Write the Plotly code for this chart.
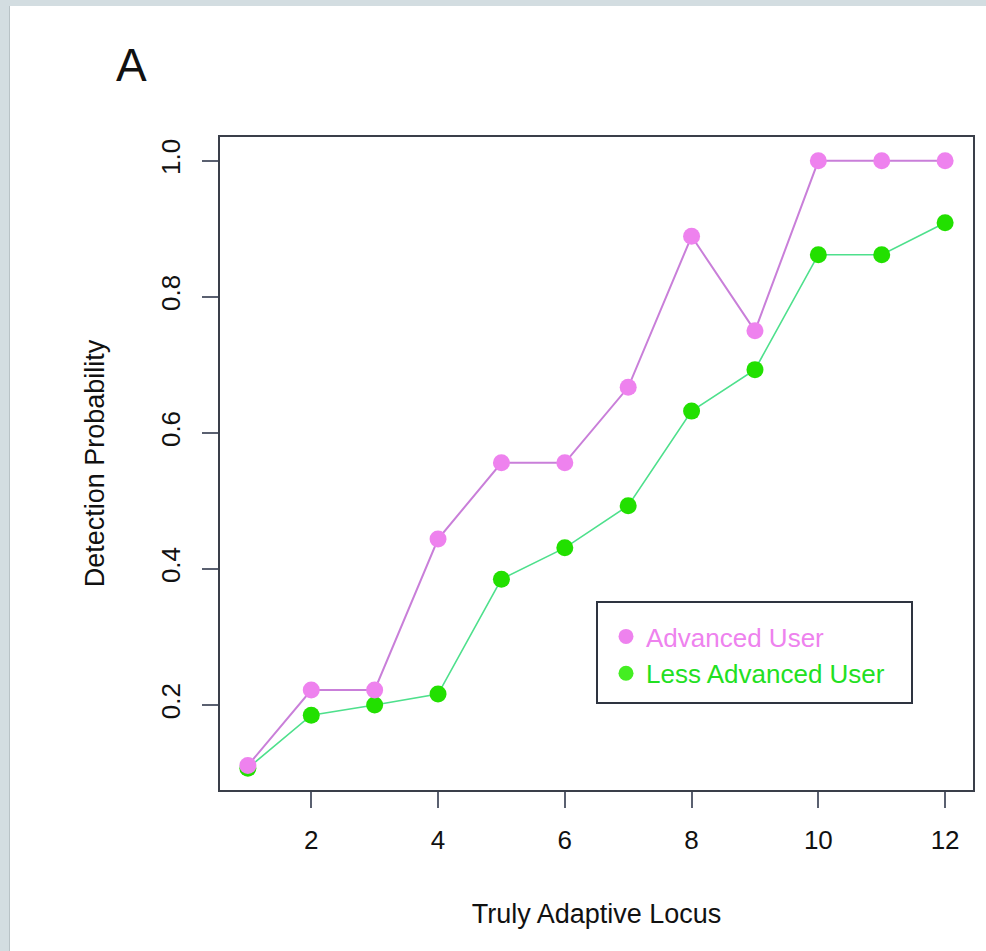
import plotly.graph_objects as go

# ---- data ----
locus = [1, 2, 3, 4, 5, 6, 7, 8, 9, 10, 11, 12]
advanced = [0.111, 0.222, 0.222, 0.444, 0.556, 0.556, 0.667, 0.889, 0.750, 1.0, 1.0, 1.0]
less_advanced = [0.107, 0.185, 0.200, 0.216, 0.385, 0.431, 0.493, 0.632, 0.693, 0.862, 0.862, 0.909]
x_ticks = [2, 4, 6, 8, 10, 12]
y_ticks = [0.2, 0.4, 0.6, 0.8, 1.0]
series_names = ["Advanced User", "Less Advanced User"]

W, H = 986, 951
L, R, T, B = 220, 13, 137, 161
PW, PH = W - L - R, H - T - B

def px(x):
    return (x - L) / PW

def py(y):
    return (H - B - y) / PH

FONT = "Liberation Sans, Arial, Helvetica, sans-serif"
PINK_M, PINK_L = "#ee82ee", "#c97fd9"
GREEN_M, GREEN_L = "#22e000", "#4ee08c"

fig = go.Figure()
# lines (not in legend)
fig.add_trace(go.Scatter(x=locus, y=less_advanced, mode="lines+markers",
                         line=dict(color=GREEN_L, width=1.6),
                         marker=dict(color=GREEN_M, size=17), showlegend=False,
                         hoverinfo="skip"))
fig.add_trace(go.Scatter(x=locus, y=advanced, mode="lines+markers",
                         line=dict(color=PINK_L, width=2),
                         marker=dict(color=PINK_M, size=17), showlegend=False,
                         hoverinfo="skip"))
# legend-only point entries
fig.add_trace(go.Scatter(x=[None], y=[None], mode="markers",
                         marker=dict(color=PINK_M, size=15),
                         name='<span style="color:%s">%s</span>' % (PINK_M, series_names[0])))
fig.add_trace(go.Scatter(x=[None], y=[None], mode="markers",
                         marker=dict(color="#44ee22", size=15),
                         name='<span style="color:#22e022">%s</span>' % series_names[1]))

axis_common = dict(showline=True, linecolor="#3a3f4a", linewidth=2, mirror=True,
                   ticks="outside", ticklen=16, tickwidth=2, tickcolor="#5a6070",
                   showgrid=False, zeroline=False,
                   tickfont=dict(family=FONT, size=26, color="#111111"))

fig.update_xaxes(range=[0.56, 12.44], tickvals=x_ticks, ticktext=[str(v) for v in x_ticks],
                 ticklabelstandoff=10,
                 title=dict(text="Truly Adaptive Locus", font=dict(family=FONT, size=27, color="#111111"),
                            standoff=50),
                 **axis_common)
fig.update_yaxes(range=[0.075, 1.035], tickvals=y_ticks, ticktext=["%.1f" % v for v in y_ticks],
                 tickangle=-90, ticklabelstandoff=12,
                 title=dict(text="Detection Probability", font=dict(family=FONT, size=27, color="#111111"),
                            standoff=43),
                 **axis_common)

shapes = [
    # legend box
    dict(type="rect", xref="paper", yref="paper", x0=px(597), x1=px(912), y0=py(703), y1=py(602),
         line=dict(color="#2e3440", width=2), fillcolor="rgba(0,0,0,0)", layer="above"),
    # grey frame strips of the screenshot
    dict(type="rect", xref="paper", yref="paper", x0=px(0), x1=px(10), y0=py(951), y1=py(0),
         line=dict(width=0), fillcolor="#d3dde1", layer="above"),
    dict(type="rect", xref="paper", yref="paper", x0=px(0), x1=px(986), y0=py(6), y1=py(0),
         line=dict(width=0), fillcolor="#d3dde1", layer="above"),
    dict(type="line", xref="paper", yref="paper", x0=px(9.5), x1=px(9.5), y0=py(951), y1=py(6),
         line=dict(color="#b8c2c6", width=1), layer="above"),
]

fig.update_layout(
    width=W, height=H,
    margin=dict(l=L, r=R, t=T, b=B),
    paper_bgcolor="white", plot_bgcolor="white",
    font=dict(family=FONT, color="#111111"),
    showlegend=True,
    legend=dict(x=px(606), y=py(613), xanchor="left", yanchor="top",
                bgcolor="rgba(0,0,0,0)", borderwidth=0,
                font=dict(family=FONT, size=26), tracegroupgap=0, itemsizing="trace"),
    shapes=shapes,
    annotations=[dict(text="A", xref="paper", yref="paper", x=px(131), y=py(65),
                      xanchor="center", yanchor="middle", showarrow=False,
                      font=dict(family=FONT, size=46, color="#111111"))],
)

fig.write_html("out.html")
